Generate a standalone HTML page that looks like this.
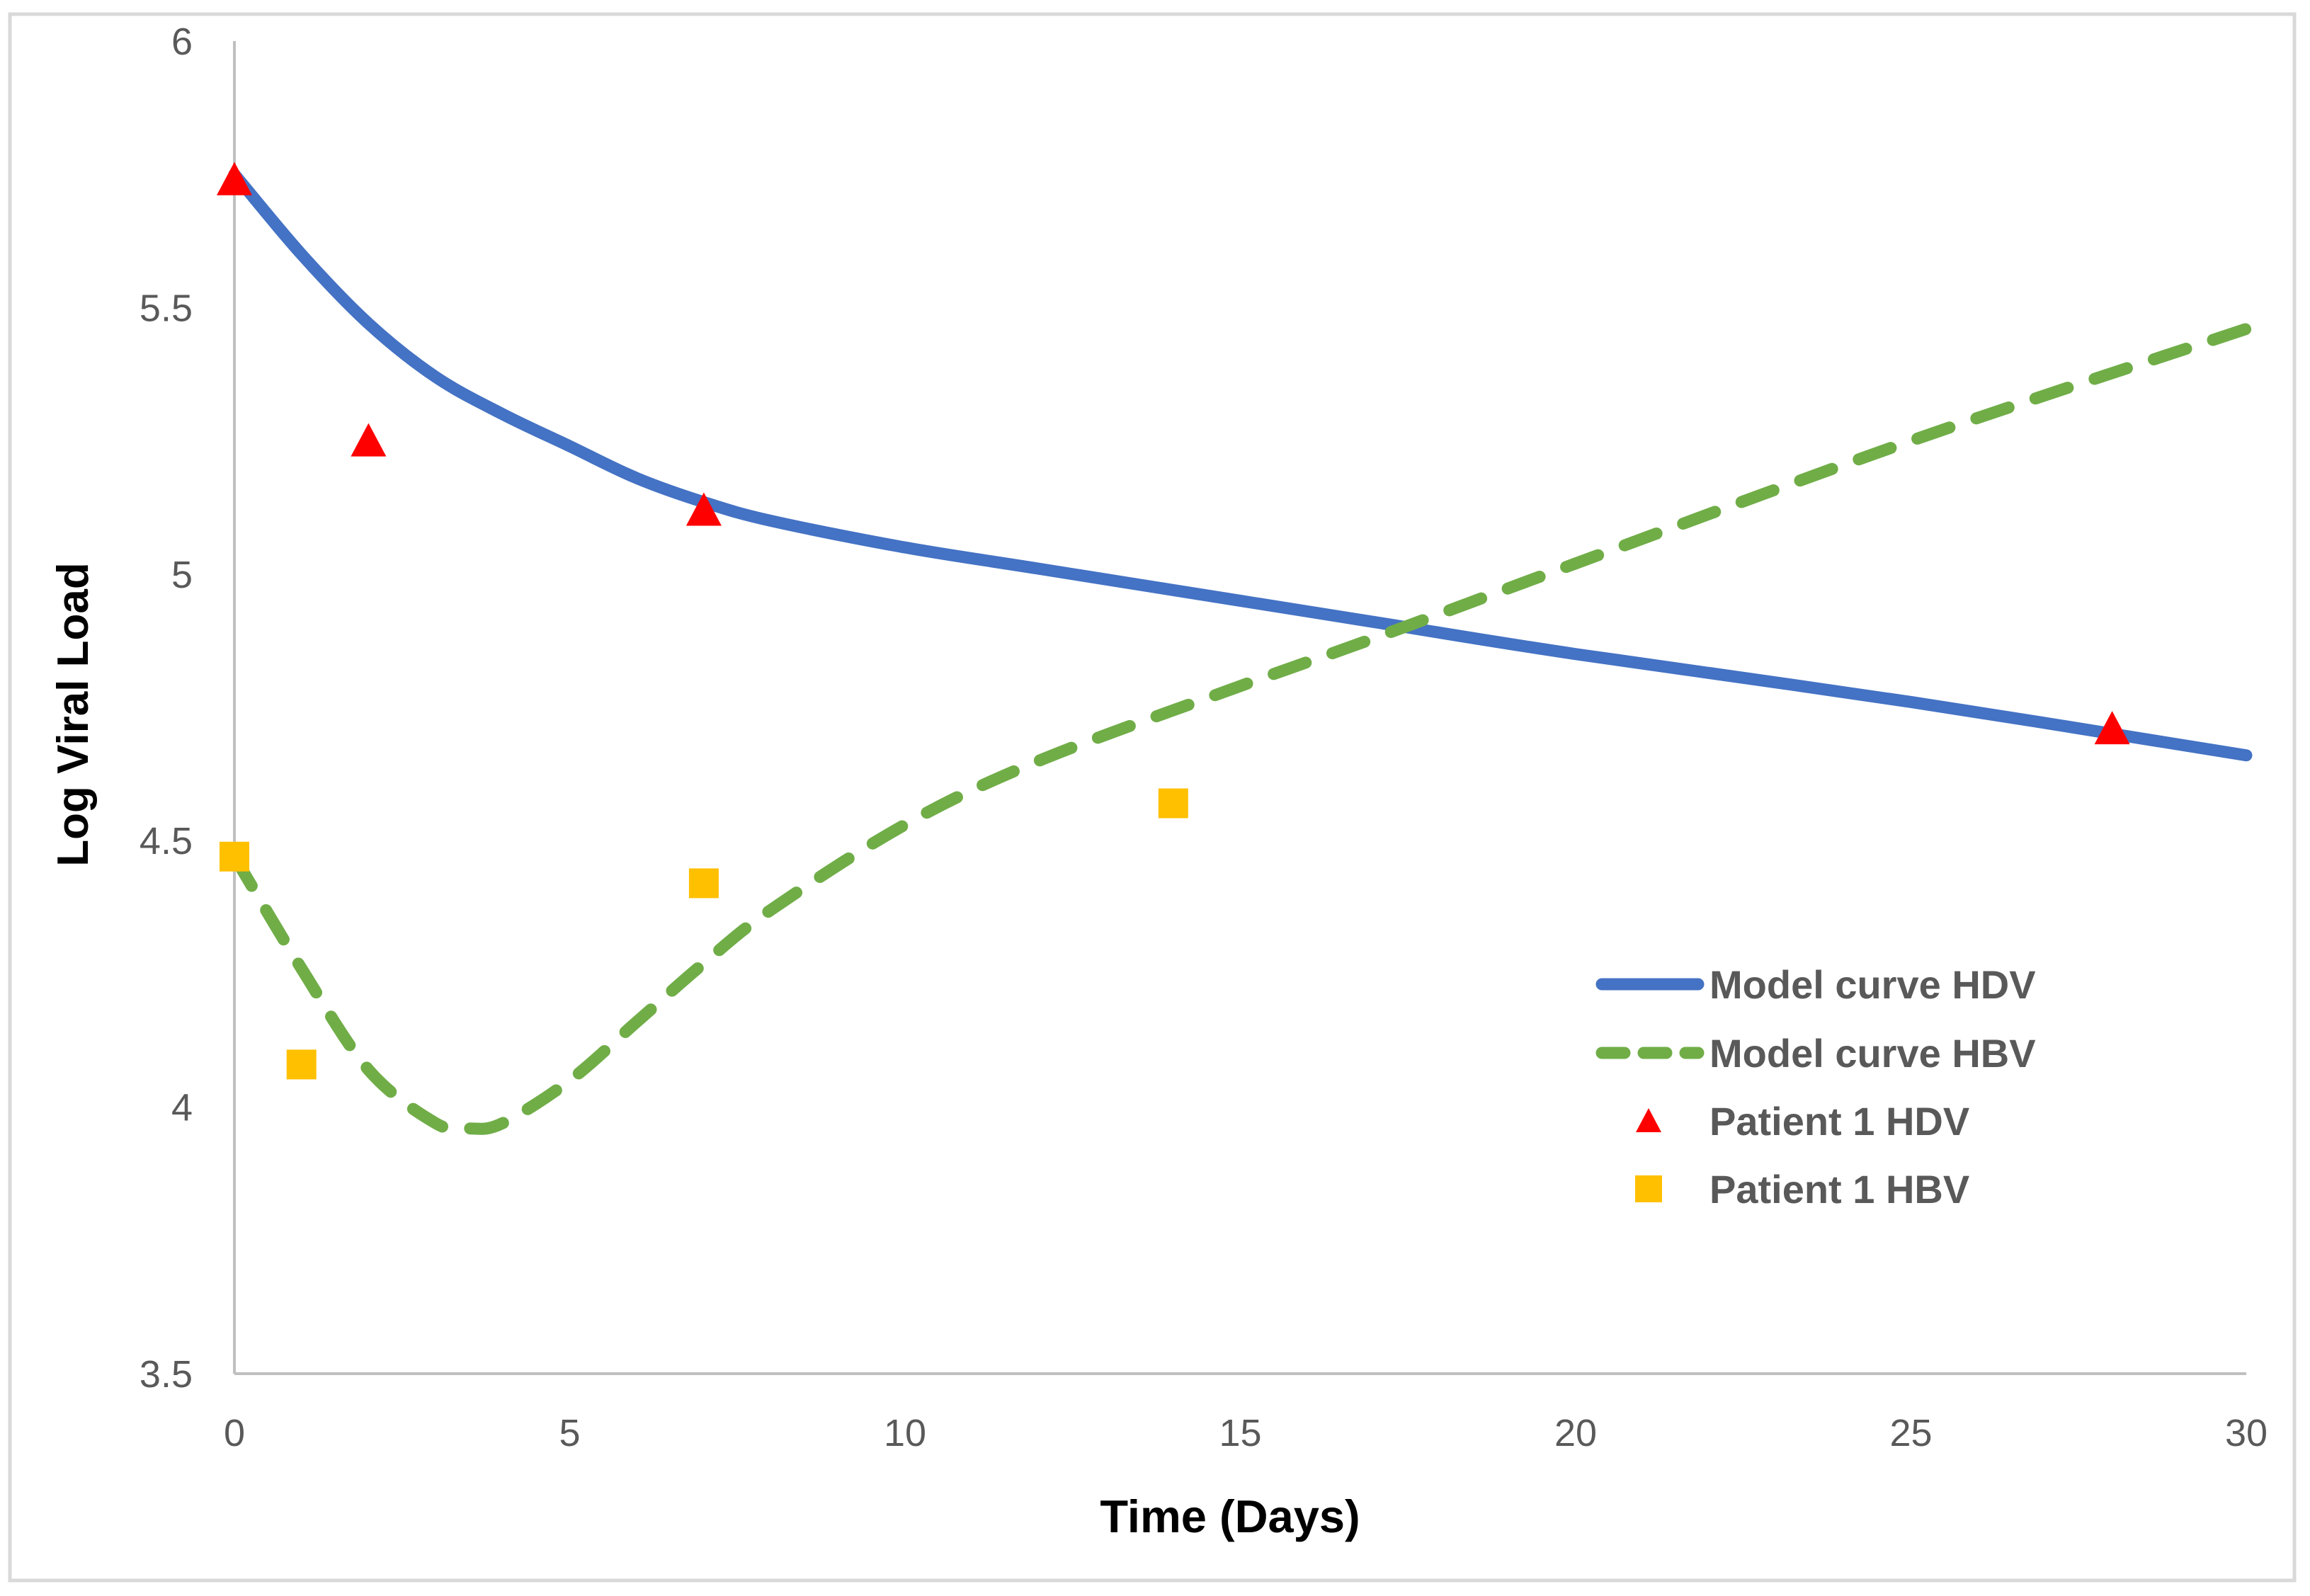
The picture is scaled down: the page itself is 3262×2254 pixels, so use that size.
<!DOCTYPE html>
<html><head><meta charset="utf-8"><style>
html,body{margin:0;padding:0;background:#fff;}
svg{display:block;font-family:"Liberation Sans",sans-serif;}
</style></head><body>
<svg id="chart" width="3262" height="2254" viewBox="0 0 3262 2254">
<rect x="14" y="20" width="3226" height="2212" fill="#fff" stroke="#d9d9d9" stroke-width="5"/>
<g id="axes"></g><g id="series"></g><g id="legend"></g>
<text x="1737" y="2164" text-anchor="middle" font-size="65" font-weight="bold" fill="#000">Time (Days)</text>
<text transform="translate(124,1009) rotate(-90)" text-anchor="middle" font-size="62" font-weight="bold" fill="#000">Log Viral Load</text>
</svg>
<script>
const xTicks=[0,5,10,15,20,25,30];
const yTicks=[3.5,4,4.5,5,5.5,6];
const hdvCurveX=[0,1,2,3,4,5,6,7,8,10,12,15,17,20,25,30];
const hdvCurveY=[5.75,5.60,5.47,5.37,5.30,5.24,5.18,5.135,5.10,5.05,5.01,4.95,4.91,4.85,4.76,4.66];
const hbvCurveX=[0,1,2,3,3.5,4,5,6,7,8,10,12,15,17,20,25,30];
const hbvCurveY=[4.47,4.26,4.07,3.97,3.96,3.97,4.05,4.16,4.27,4.37,4.53,4.65,4.79,4.88,5.02,5.25,5.46];
const hdvPtX=[0,2,7,28];
const hdvPtY=[5.74,5.25,5.12,4.71];
const hbvPtX=[0,1,7,14];
const hbvPtY=[4.47,4.08,4.42,4.57];

const NS="http://www.w3.org/2000/svg";
const X0=331,X1=3172,Y0=1940,Y1=58;
const sx=v=>X0+(v-0)/(30-0)*(X1-X0);
const sy=v=>Y0-(v-3.5)/(6-3.5)*(Y0-Y1);
function mk(tag,attrs,parent){const e=document.createElementNS(NS,tag);for(const k in attrs)e.setAttribute(k,attrs[k]);parent.appendChild(e);return e;}
const axes=document.getElementById('axes'),series=document.getElementById('series'),legend=document.getElementById('legend');

let yl=mk('line',{x1:X0,y1:Y0,x2:X0,y2:Y1,stroke:'#bfbfbf','stroke-width':4},axes);


let xl=mk('line',{x1:X0,y1:Y0,x2:X1,y2:Y0,stroke:'#bfbfbf','stroke-width':4},axes);


yTicks.forEach(t=>{const e=mk('text',{x:272,y:sy(t)+19,'text-anchor':'end','font-size':54,fill:'#595959'},axes);e.textContent=String(t);

});
xTicks.forEach(t=>{const e=mk('text',{x:sx(t),y:2042,'text-anchor':'middle','font-size':54,fill:'#595959'},axes);e.textContent=String(t);

});

function smooth(xs,ys){const p=xs.map((x,i)=>[sx(x),sy(ys[i])]);let d='M'+p[0][0]+','+p[0][1];
for(let i=0;i<p.length-1;i++){const a=p[i-1]||p[i],b=p[i],c=p[i+1],e=p[i+2]||c;
const c1=[b[0]+(c[0]-a[0])/6,b[1]+(c[1]-a[1])/6],c2=[c[0]-(e[0]-b[0])/6,c[1]-(e[1]-b[1])/6];
d+=' C'+c1+' '+c2+' '+c;}return d;}
let hd=mk('path',{d:smooth(hdvCurveX,hdvCurveY),fill:'none',stroke:'#4472c4','stroke-width':17,'stroke-linecap':'round'},series);


let hb=mk('path',{d:smooth(hbvCurveX,hbvCurveY),fill:'none',stroke:'#70ad47','stroke-width':17,'stroke-dasharray':'48 40','stroke-linecap':'round'},series);


hdvPtX.forEach((x,i)=>{const cx=sx(x),cy=sy(hdvPtY[i]);
const t=mk('polygon',{points:`${cx},${cy-25} ${cx-25},${cy+22} ${cx+25},${cy+22}`,fill:'#ff0000'},series);

});
hbvPtX.forEach((x,i)=>{const cx=sx(x),cy=sy(hbvPtY[i]);
const r=mk('rect',{x:cx-21,y:cy-21,width:42,height:42,fill:'#ffc000'},series);

});

const legLabels=['Model curve HDV','Model curve HBV','Patient 1 HDV','Patient 1 HBV'];
const rowsY=[1390,1487,1583,1679];
legLabels.forEach((lab,i)=>{const y=rowsY[i];
const g=mk('g',{},legend);


if(i===0)mk('line',{x1:2262,y1:y,x2:2398,y2:y,stroke:'#4472c4','stroke-width':17,'stroke-linecap':'round'},g);
if(i===1)mk('line',{x1:2262,y1:y,x2:2398,y2:y,stroke:'#70ad47','stroke-width':17,'stroke-dasharray':'32 27','stroke-linecap':'round'},g);
if(i===2)mk('polygon',{points:`2328,${y-18} 2310,${y+16} 2346,${y+16}`,fill:'#ff0000'},g);
if(i===3)mk('rect',{x:2309,y:y-19,width:38,height:38,fill:'#ffc000'},g);
const t=mk('text',{x:2414,y:y+20,'font-size':56,'font-weight':'bold',fill:'#595959'},g);t.textContent=lab;});
</script>
</body></html>
